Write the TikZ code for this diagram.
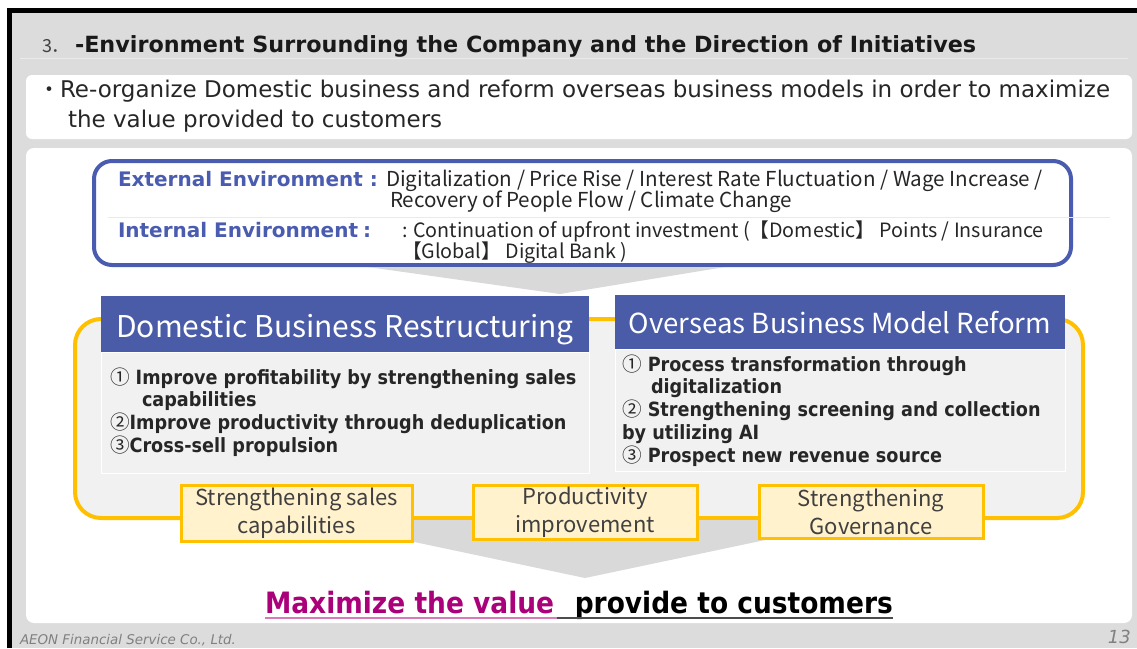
\documentclass[tikz,border=0pt]{standalone}
\usepackage{fontspec}
\setmainfont{DejaVu Sans}
\newfontfamily\verd{DejaVu Sans}
\newfontfamily\tah[FakeStretch=0.9]{DejaVu Sans}
\newfontfamily\mei{Noto Sans CJK JP}
\usetikzlibrary{calc}
% circled item numbers set in the CJK face
\newcommand\circnum[1]{{\mei\mdseries #1}}

\definecolor{frameGray}{HTML}{DCDCDC}
\definecolor{hdrBlue}{HTML}{4A5BA8}
\definecolor{envBlue}{HTML}{4A5CB0}
\definecolor{gold}{HTML}{FFC000}
\definecolor{goldFill}{HTML}{FFF2CC}
\definecolor{panelGray}{HTML}{F1F1F1}
\definecolor{funnel}{HTML}{D9D9D9}
\definecolor{magentaTxt}{HTML}{AA007A}
\definecolor{pinkLine}{HTML}{D67AB8}
\definecolor{footGray}{HTML}{808080}
\definecolor{txtDark}{HTML}{262626}
\definecolor{boxTxt}{HTML}{404040}
\definecolor{rule}{HTML}{EAEAEA}

\tikzset{
  txt/.style={anchor=base west, inner sep=0pt, outer sep=0pt},
  hdr/.style={fill=hdrBlue, text=white, inner sep=0pt, text depth=2pt},
  bodyline/.style={txt, text=txtDark, font=\tah\bfseries\fontsize{19.6}{22}\selectfont},
  envkey/.style={txt, text=envBlue, font=\verd\bfseries\fontsize{20}{22}\selectfont},
  envval/.style={txt, text=txtDark, font=\mei\fontsize{#1}{22}\selectfont},
  envval/.default=20.6,
  goalbox/.style={draw=gold, line width=3pt, fill=goldFill, inner sep=0pt,
    align=center, text=boxTxt, font=\mei\fontsize{22}{28}\selectfont},
  goaltxt/.style={font=\tah\bfseries\fontsize{29.4}{32}\selectfont, inner sep=0pt},
}

\begin{document}
\begin{tikzpicture}[x=1pt,y=-1pt]
\path[use as bounding box] (0,0) rectangle (1137,648);
\fill[white] (0,0) rectangle (1137,648);

% slide frame
\fill[frameGray] (10,10) rectangle (1137,648);
\draw[line width=4.5pt] (9.5,648) -- (9.5,10.5) -- (1137,10.5);

% title
\node[txt, font=\mei\fontsize{18}{20}\selectfont, text=black!75] (num) at (42,52) {3．};
\node[txt, font=\verd\bfseries\fontsize{22.3}{24}\selectfont, text=black!90] (title) at (75,52)
  {-Environment Surrounding the Company and the Direction of Initiatives};
\draw[rule, line width=1pt] (20,58) -- (1128,58);

% subtitle panel
\fill[white, rounded corners=6pt] (26,75) rectangle (1132,139);
\node[txt, font=\mei\fontsize{22}{24}\selectfont, text=txtDark] (dot) at (38,97) {・};
\node[txt, font=\verd\fontsize{23}{24}\selectfont, text=txtDark] (sub1) at (60,97)
  {Re-organize Domestic business and reform overseas business models in order to maximize};
\node[txt, font=\verd\fontsize{23}{24}\selectfont, text=txtDark] (sub2) at (68,127)
  {the value provided to customers};

% main panel
\fill[white, rounded corners=8pt] (26,148) rectangle (1132,623);

% environment box
\draw[envBlue, line width=4pt, rounded corners=18pt, fill=white] (94,161) rectangle (1071,265);
\draw[rule, line width=1pt] (108,217) -- (1110,217);
\node[envkey] (extK) at (118,186) {External Environment :};
\node[envval] (extV1) at (386,186) {Digitalization / Price Rise / Interest Rate Fluctuation / Wage Increase /};
\node[envval] (extV2) at (390,207) {Recovery of People Flow / Climate Change};
\node[envkey] (intK) at (118,237) {Internal Environment\hspace{5pt}:};
\node[envval=19.7] (intV1) at (402,237) {: Continuation of upfront investment (【Domestic】 Points / Insurance};
\node[envval=19.7] (intV2) at (402,258) {【Global】 Digital Bank )};

% funnel under environment box
\fill[funnel] (368,267) -- (725,267) -- (560,294) -- cycle;

% yellow frame around both reforms
\draw[gold, line width=4pt, fill=panelGray, rounded corners=26pt] (75,319) rectangle (1083,518);

% funnel towards the goal
\fill[funnel] (310,520) -- (860,520) -- (585,578) -- cycle;

% domestic restructuring
\node[hdr, text height=28pt, minimum width=488pt, minimum height=56pt,
  font=\mei\fontsize{30}{32}\selectfont] (domH) at (345,324) {Domestic Business Restructuring};
\fill[panelGray, draw=white, line width=1pt] (101,352) rectangle (589,473);
\node[bodyline] (d1a) at (110,384) {\circnum{①} Improve profitability by strengthening sales};
\node[bodyline] (d1b) at (142,406) {capabilities};
\node[bodyline] (d2) at (110,429) {\circnum{②}Improve productivity through deduplication};
\node[bodyline] (d3) at (110,452) {\circnum{③}Cross-sell propulsion};

% overseas reform
\node[hdr, text height=24pt, minimum width=450pt, minimum height=54pt,
  font=\mei\fontsize{27.6}{30}\selectfont] (ovH) at (840,322) {Overseas Business Model Reform};
\fill[panelGray, draw=white, line width=1pt] (615,349) rectangle (1065,471);
\node[bodyline] (o1a) at (622,371) {\circnum{①} Process transformation through};
\node[bodyline] (o1b) at (651,393) {digitalization};
\node[bodyline] (o2a) at (622,416) {\circnum{②} Strengthening screening and collection};
\node[bodyline] (o2b) at (622,439) {by utilizing AI};
\node[bodyline] (o3) at (622,462) {\circnum{③} Prospect new revenue source};

% common goals
\node[goalbox, minimum width=231pt, minimum height=56pt] (g1) at (296.5,513) {Strengthening sales\\capabilities};
\node[goalbox, minimum width=224pt, minimum height=54pt] (g2) at (585,512) {Productivity\\improvement};
\node[goalbox, minimum width=224pt, minimum height=53pt] (g3) at (871,511.5) {Strengthening\\Governance};

% conclusion
\node[txt, goaltxt, text=magentaTxt] (maxv) at (265,613) {Maximize the value};
\node[goaltxt, anchor=base east, text=black] (prov) at (893,613) {provide to customers};
\draw[pinkLine, line width=2pt] ([yshift=-5pt]maxv.base west) -- ([yshift=-5pt,xshift=-18pt]prov.base west);
\draw[black!70, line width=2pt] ([yshift=-5pt,xshift=-18pt]prov.base west) -- ([yshift=-5pt]prov.base east);

% footer
\node[txt, text=footGray, font=\verd\itshape\fontsize{13.4}{15}\selectfont] (foot) at (20,644) {AEON Financial Service Co., Ltd.};
\node[anchor=base east, inner sep=0pt, text=footGray, font=\verd\itshape\fontsize{18}{20}\selectfont] (page) at (1131,643) {13};
\end{tikzpicture}
\end{document}
